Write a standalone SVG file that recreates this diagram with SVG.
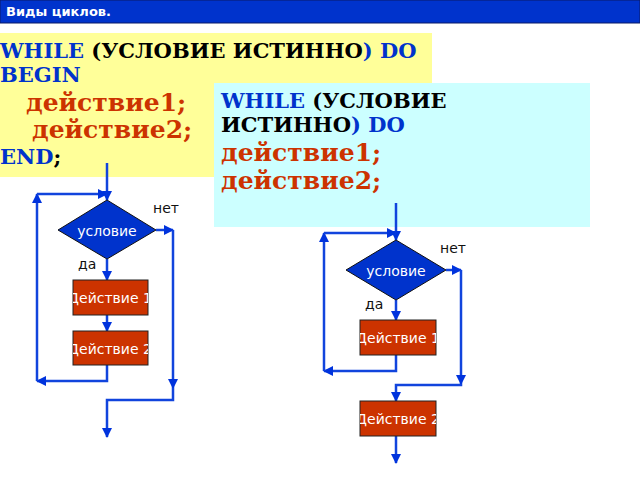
<svg xmlns="http://www.w3.org/2000/svg" width="640" height="480" viewBox="0 0 640 480">
<defs>
<marker id="ar" viewBox="0 0 10 10" refX="9" refY="5" markerWidth="4" markerHeight="4" orient="auto"><path d="M0,0 L10,5 L0,10 z" fill="#0033dd"/></marker>
<clipPath id="c1"><rect x="73" y="280" width="75" height="86"/></clipPath>
<clipPath id="c2"><rect x="360" y="320" width="76" height="117"/></clipPath>
<style>
.c{fill:none;stroke:#1144dd;stroke-width:2.5}
.code{font-family:"DejaVu Serif",serif;font-weight:bold;font-size:21px}
.b{fill:#0033cc}.k{fill:#000}.r{fill:#cc3300;font-size:25px}
.dia{fill:#0033cc;stroke:#111;stroke-width:1}
.box{fill:#cc3300;stroke:#222;stroke-width:1}
.t{font-family:"DejaVu Sans",sans-serif;font-size:14px;fill:#fff;text-anchor:middle}
.lb{font-family:"DejaVu Sans",sans-serif;font-size:14px;fill:#111}
</style>
</defs>
<rect width="640" height="480" fill="#fff"/>
<g id="header"><rect x="0" y="0" width="640" height="23" fill="#0033cc" stroke="#0a1a66" stroke-width="1"/>
<text x="6" y="16" font-family="DejaVu Sans,sans-serif" font-weight="bold" font-size="13" fill="#fff">Виды циклов.</text></g>
<g id="code1"><rect x="0" y="33" width="432" height="144" fill="#ffff99"/>
<text class="code" x="0" y="58"><tspan class="b">WHILE</tspan><tspan class="k"> (УСЛОВИЕ ИСТИННО</tspan><tspan class="b">) DO</tspan></text>
<text class="code b" x="0" y="82">BEGIN</text>
<text class="code r" x="26" y="111">действие1;</text>
<text class="code r" x="32" y="138">действие2;</text>
<text class="code" x="0" y="164"><tspan class="b">END</tspan><tspan class="k">;</tspan></text></g>
<g id="code2"><rect x="214" y="83" width="376" height="144" fill="#ccffff"/>
<text class="code" x="221" y="108"><tspan class="b">WHILE</tspan><tspan class="k"> (УСЛОВИЕ</tspan></text>
<text class="code" x="221" y="132"><tspan class="k">ИСТИННО</tspan><tspan class="b">) DO</tspan></text>
<text class="code r" x="221" y="161">действие1;</text>
<text class="code r" x="221" y="189">действие2;</text></g>
<g id="connectors">
<path class="c" d="M107,163 V200" marker-end="url(#ar)"/>
<path class="c" d="M107,259 V280" marker-end="url(#ar)"/>
<path class="c" d="M107,315 V331" marker-end="url(#ar)"/>
<path class="c" d="M107,365 V381 H37" marker-end="url(#ar)"/>
<path class="c" d="M37,381 V194" marker-end="url(#ar)"/>
<path class="c" d="M37,194 H107" marker-end="url(#ar)"/>
<path class="c" d="M156,230 H173" marker-end="url(#ar)"/>
<path class="c" d="M173,230 V388" marker-end="url(#ar)"/>
<path class="c" d="M173,388 V400 H107 V437" marker-end="url(#ar)"/>
<path class="c" d="M396,203 V240" marker-end="url(#ar)"/>
<path class="c" d="M396,300 V320" marker-end="url(#ar)"/>
<path class="c" d="M396,355 V371 H324" marker-end="url(#ar)"/>
<path class="c" d="M324,371 V233" marker-end="url(#ar)"/>
<path class="c" d="M324,233 H396" marker-end="url(#ar)"/>
<path class="c" d="M446,270 H461" marker-end="url(#ar)"/>
<path class="c" d="M461,270 V384" marker-end="url(#ar)"/>
<path class="c" d="M461,384 V385 H396 V401" marker-end="url(#ar)"/>
<path class="c" d="M396,436 V463" marker-end="url(#ar)"/>
</g>
<g id="cond1"><path class="dia" d="M107,200 L156,230 L107,259 L58,230 z"/><text class="t" x="107" y="236" font-size="15">условие</text></g>
<text class="lb" x="153" y="213">нет</text><text class="lb" x="78" y="269">да</text>
<g id="act1a"><rect class="box" x="73" y="280" width="75" height="35"/><text class="t" x="110" y="303" clip-path="url(#c1)">Действие 1</text></g>
<g id="act2a"><rect class="box" x="73" y="331" width="75" height="34"/><text class="t" x="110" y="354" clip-path="url(#c1)">Действие 2</text></g>
<g id="cond2"><path class="dia" d="M396,240 L446,270 L396,300 L346,270 z"/><text class="t" x="396" y="276" font-size="15">условие</text></g>
<text class="lb" x="440" y="253">нет</text><text class="lb" x="365" y="309">да</text>
<g id="act1b"><rect class="box" x="360" y="320" width="76" height="35"/><text class="t" x="398" y="343" clip-path="url(#c2)">Действие 1</text></g>
<g id="act2b"><rect class="box" x="360" y="401" width="76" height="35"/><text class="t" x="398" y="424" clip-path="url(#c2)">Действие 2</text></g>
</svg>
